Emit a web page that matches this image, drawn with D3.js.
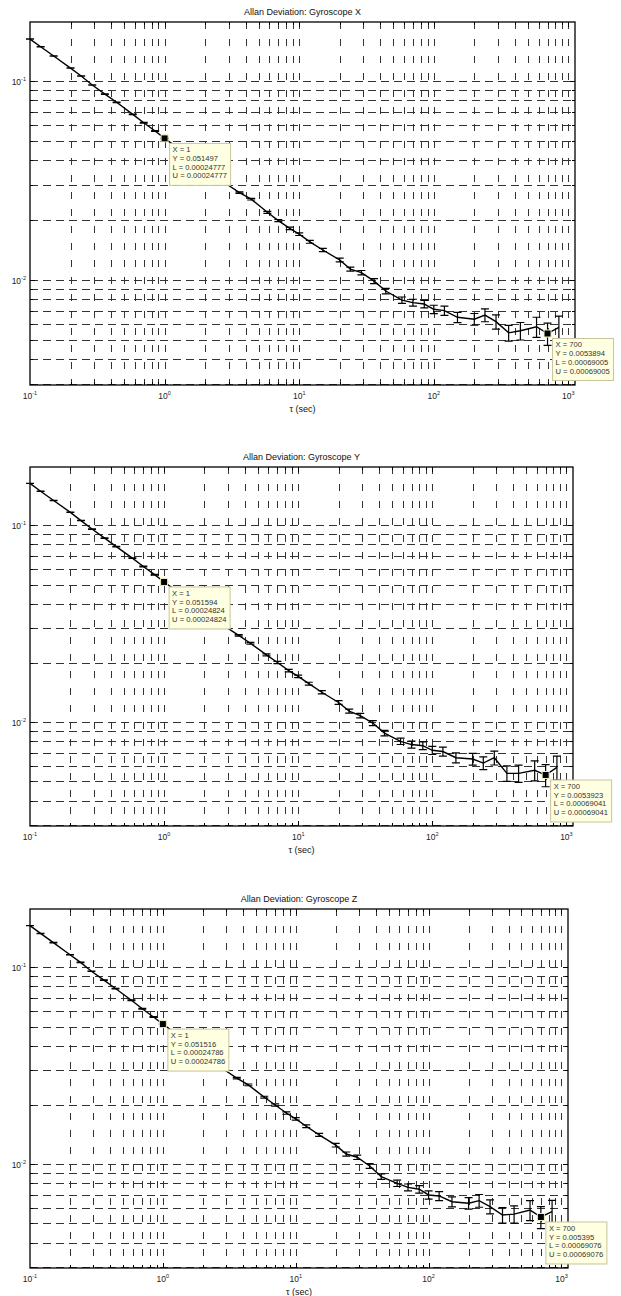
<!DOCTYPE html>
<html>
<head>
<meta charset="utf-8">
<script src="https://cdn.jsdelivr.net/npm/d3@7"></script>
<style>
  body { margin: 0; background: #fff; }
  svg { display: block; font-family: "Liberation Sans", Arial, sans-serif; }
</style>
</head>
<body>
<svg id="chart" width="621" height="1296"></svg>
<script>
// averaging times (sec)
const tau = [0.1, 0.12, 0.15, 0.2, 0.24, 0.29, 0.36, 0.44, 0.58, 0.7, 0.85,
  1, 1.2, 1.5, 2, 2.4, 2.9, 3.6, 4.4, 5.8, 7, 8.5,
  10, 12, 15, 20, 24, 29, 36, 44, 58, 70, 85,
  100, 120, 150, 200, 240, 290, 360, 440, 580, 700, 850];

// Allan deviation, gyroscope X
const gyroX = [0.1625, 0.1486, 0.1336, 0.1162, 0.106, 0.0955, 0.086, 0.0782, 0.068, 0.0617, 0.0561,
  0.051497, 0.0471, 0.0421, 0.0365, 0.0333, 0.0303, 0.0275, 0.0255, 0.0219, 0.0199, 0.0182,
  0.017, 0.01557, 0.01416, 0.01261, 0.01135, 0.01089, 0.00988, 0.00881, 0.00793, 0.0077, 0.00758,
  0.00713, 0.00702, 0.0065, 0.00636, 0.00667, 0.00618, 0.00543, 0.00556, 0.00583, 0.0053894, 0.00578];
const errX = [0.000247, 0.000247, 0.000248, 0.000247, 0.000248, 0.000246, 0.000248, 0.000247, 0.000249, 0.000247, 0.000248,
  0.00024777, 0.000249, 0.000248, 0.000249, 0.00025, 0.000249, 0.000252, 0.000255, 0.000254, 0.000254, 0.000257,
  0.000258, 0.000259, 0.000263, 0.000271, 0.000267, 0.000281, 0.000285, 0.00028, 0.00029, 0.000309, 0.000335,
  0.000342, 0.000369, 0.000382, 0.000432, 0.000496, 0.000505, 0.000494, 0.00056, 0.000674, 0.00069005, 0.00081];

// Allan deviation, gyroscope Y
const gyroY = [0.1635, 0.149, 0.1338, 0.1165, 0.1058, 0.0958, 0.0862, 0.078, 0.0682, 0.0618, 0.0562,
  0.051594, 0.0472, 0.0422, 0.0366, 0.0334, 0.0304, 0.0276, 0.0252, 0.022, 0.0201, 0.0183,
  0.0171, 0.0157, 0.0142, 0.0126, 0.0114, 0.0108, 0.0099, 0.0088, 0.008, 0.0077, 0.0076,
  0.0072, 0.0071, 0.0066, 0.0065, 0.0062, 0.0066, 0.0055, 0.0055, 0.0057, 0.0053923, 0.0059];
const errY = [0.000248, 0.000248, 0.000248, 0.000247, 0.000248, 0.000247, 0.000248, 0.000247, 0.000249, 0.000248, 0.000248,
  0.00024824, 0.000249, 0.000249, 0.000249, 0.00025, 0.00025, 0.000252, 0.000252, 0.000255, 0.000257, 0.000258,
  0.00026, 0.000261, 0.000264, 0.00027, 0.000268, 0.000279, 0.000285, 0.00028, 0.000293, 0.000309, 0.00034,
  0.000345, 0.000373, 0.000388, 0.00044, 0.000461, 0.000539, 0.0005, 0.000554, 0.000659, 0.00069041, 0.000826];

// Allan deviation, gyroscope Z
const gyroZ = [0.163, 0.1488, 0.1336, 0.116, 0.106, 0.0956, 0.0861, 0.0781, 0.0681, 0.0616, 0.056,
  0.051516, 0.0471, 0.0421, 0.0366, 0.0333, 0.0302, 0.0274, 0.0253, 0.0219, 0.02, 0.0182,
  0.017, 0.0156, 0.0141, 0.0125, 0.01127, 0.01085, 0.0098, 0.00865, 0.008, 0.00763, 0.00746,
  0.00698, 0.0069, 0.00645, 0.00634, 0.00653, 0.00609, 0.00552, 0.00558, 0.00585, 0.005395, 0.00574];
const errZ = [0.000248, 0.000247, 0.000248, 0.000246, 0.000248, 0.000247, 0.000248, 0.000247, 0.000249, 0.000247, 0.000248,
  0.00024786, 0.000248, 0.000248, 0.000249, 0.00025, 0.000249, 0.000251, 0.000254, 0.000253, 0.000255, 0.000257,
  0.000258, 0.00026, 0.000262, 0.00027, 0.000268, 0.00028, 0.000282, 0.000275, 0.000293, 0.000306, 0.00033,
  0.000335, 0.000363, 0.000379, 0.00043, 0.000486, 0.000497, 0.000505, 0.000562, 0.000676, 0.00069076, 0.000804];

const titles = ["Allan Deviation: Gyroscope X", "Allan Deviation: Gyroscope Y", "Allan Deviation: Gyroscope Z"];
const xLabel = "\u03c4 (sec)";

// data tips: [X, Y, L, U]
const tipsX = [[1, 0.051497, 0.00024777, 0.00024777], [700, 0.0053894, 0.00069005, 0.00069005]];
const tipsY = [[1, 0.051594, 0.00024824, 0.00024824], [700, 0.0053923, 0.00069041, 0.00069041]];
const tipsZ = [[1, 0.051516, 0.00024786, 0.00024786], [700, 0.005395, 0.00069076, 0.00069076]];

const xDomain = [0.1, 1120];
const yDomain = [0.00297, 0.198];

const panels = [
  {title: titles[0], values: gyroX, errs: errX, tips: tipsX, left: 30, right: 575, top: 22, bottom: 385},
  {title: titles[1], values: gyroY, errs: errY, tips: tipsY, left: 30, right: 573, top: 467, bottom: 826},
  {title: titles[2], values: gyroZ, errs: errZ, tips: tipsZ, left: 30, right: 568, top: 909, bottom: 1268}
];

const svg = d3.select("#chart");
const crisp = v => Math.round(v) + 0.5;
const isDecade = v => Math.abs(Math.log10(v) - Math.round(Math.log10(v))) < 1e-9;

function powLabel(sel, exp) {
  sel.append("tspan").text("10");
  sel.append("tspan").attr("font-size", "5.5px").attr("dy", -4).text(exp);
}

function drawPanel(p) {
  const g = svg.append("g");
  const x = d3.scaleLog().domain(xDomain).range([p.left, p.right]);
  const y = d3.scaleLog().domain(yDomain).range([p.bottom, p.top]);

  const xGrid = x.ticks().filter(v => x(v) > p.left + 1 && x(v) < p.right - 1);
  const yGrid = y.ticks().filter(v => y(v) < p.bottom - 0.5 && y(v) > p.top + 1);

  // grid
  g.append("g").selectAll("line")
    .data(xGrid)
    .enter()
    .append("line")
    .attr("x1", d => crisp(x(d))).attr("x2", d => crisp(x(d)))
    .attr("y1", p.top).attr("y2", p.bottom)
    .attr("stroke", "#333")
    .attr("stroke-width", 1)
    .attr("stroke-dasharray", "7,10");

  g.append("g").selectAll("line")
    .data(yGrid)
    .enter()
    .append("line")
    .attr("y1", d => crisp(y(d))).attr("y2", d => crisp(y(d)))
    .attr("x1", p.left).attr("x2", p.right)
    .attr("stroke", "#333")
    .attr("stroke-width", 1)
    .attr("stroke-dasharray", "8,5");

  // inward ticks on all four sides
  const ticks = g.append("g").attr("stroke", "#000").attr("stroke-width", 1);
  xGrid.forEach(v => {
    const len = isDecade(v) ? 5 : 3;
    const xx = crisp(x(v));
    ticks.append("line").attr("x1", xx).attr("x2", xx).attr("y1", p.bottom).attr("y2", p.bottom - len);
    ticks.append("line").attr("x1", xx).attr("x2", xx).attr("y1", p.top).attr("y2", p.top + len);
  });
  yGrid.forEach(v => {
    const len = isDecade(v) ? 5 : 3;
    const yy = crisp(y(v));
    ticks.append("line").attr("y1", yy).attr("y2", yy).attr("x1", p.left).attr("x2", p.left + len);
    ticks.append("line").attr("y1", yy).attr("y2", yy).attr("x1", p.right).attr("x2", p.right - len);
  });

  // axes box
  g.append("rect")
    .attr("x", p.left).attr("y", p.top)
    .attr("width", p.right - p.left).attr("height", p.bottom - p.top)
    .attr("fill", "none")
    .attr("stroke", "#000")
    .attr("stroke-width", 1.3);

  // tick labels
  xGrid.concat([xDomain[0]]).filter(isDecade).forEach(v => {
    g.append("text")
      .attr("x", x(v)).attr("y", p.bottom + 14)
      .attr("text-anchor", "middle")
      .attr("font-size", "8.5px")
      .attr("fill", "#222")
      .call(powLabel, Math.round(Math.log10(v)));
  });
  yGrid.filter(isDecade).forEach(v => {
    g.append("text")
      .attr("x", p.left - 4).attr("y", y(v) + 4)
      .attr("text-anchor", "end")
      .attr("font-size", "8.5px")
      .attr("fill", "#222")
      .call(powLabel, Math.round(Math.log10(v)));
  });

  // title and x label
  const cx = (p.left + p.right) / 2;
  g.append("text")
    .attr("x", cx).attr("y", p.top - 7)
    .attr("text-anchor", "middle")
    .attr("font-size", "9px")
    .attr("fill", "#111")
    .text(p.title);
  g.append("text")
    .attr("x", cx).attr("y", p.bottom + 27)
    .attr("text-anchor", "middle")
    .attr("font-size", "9px")
    .attr("fill", "#111")
    .text(xLabel);

  // error bars
  const pts = tau.map((t, i) => ({t: t, v: p.values[i], e: p.errs[i]}));
  const cap = 4;
  const eb = g.append("g").attr("stroke", "#000").attr("stroke-width", 1.2).attr("fill", "none");
  eb.selectAll("path")
    .data(pts)
    .enter()
    .append("path")
    .attr("d", d => {
      const xx = x(d.t), y0 = y(d.v - d.e), y1 = y(d.v + d.e);
      return `M${xx},${y0}V${y1}M${xx - cap},${y0}H${xx + cap}M${xx - cap},${y1}H${xx + cap}`;
    });

  // line
  const line = d3.line().x(d => x(d.t)).y(d => y(d.v));
  g.append("path")
    .datum(pts)
    .attr("d", line)
    .attr("fill", "none")
    .attr("stroke", "#000")
    .attr("stroke-width", 1.4);

  // data tips
  p.tips.forEach(tip => {
    const mx = x(tip[0]), my = y(tip[1]);
    g.append("rect")
      .attr("x", mx - 3.5).attr("y", my - 3.5)
      .attr("width", 7).attr("height", 7)
      .attr("fill", "#000")
      .attr("stroke", "#f2eeb8")
      .attr("stroke-width", 1);
    const lines = [`X = ${tip[0]}`, `Y = ${tip[1]}`, `L = ${tip[2]}`, `U = ${tip[3]}`];
    const box = g.append("g").attr("transform", `translate(${mx + 4.5},${my + 4.5})`);
    const bg = box.append("rect").attr("fill", "#ffffe1").attr("stroke", "#c9c59a").attr("stroke-width", 1);
    const txt = box.append("text")
      .attr("font-size", "7.6px")
      .attr("fill", "#333");
    lines.forEach((s, i) => {
      txt.append("tspan").attr("x", 3.5).attr("y", 9.5 + i * 8.7).text(s);
    });
    const w = txt.node().getBBox().width + 7;
    bg.attr("x", 0.5).attr("y", 0.5).attr("width", Math.round(w)).attr("height", 42);
  });
}

panels.forEach(drawPanel);
</script>
</body>
</html>
